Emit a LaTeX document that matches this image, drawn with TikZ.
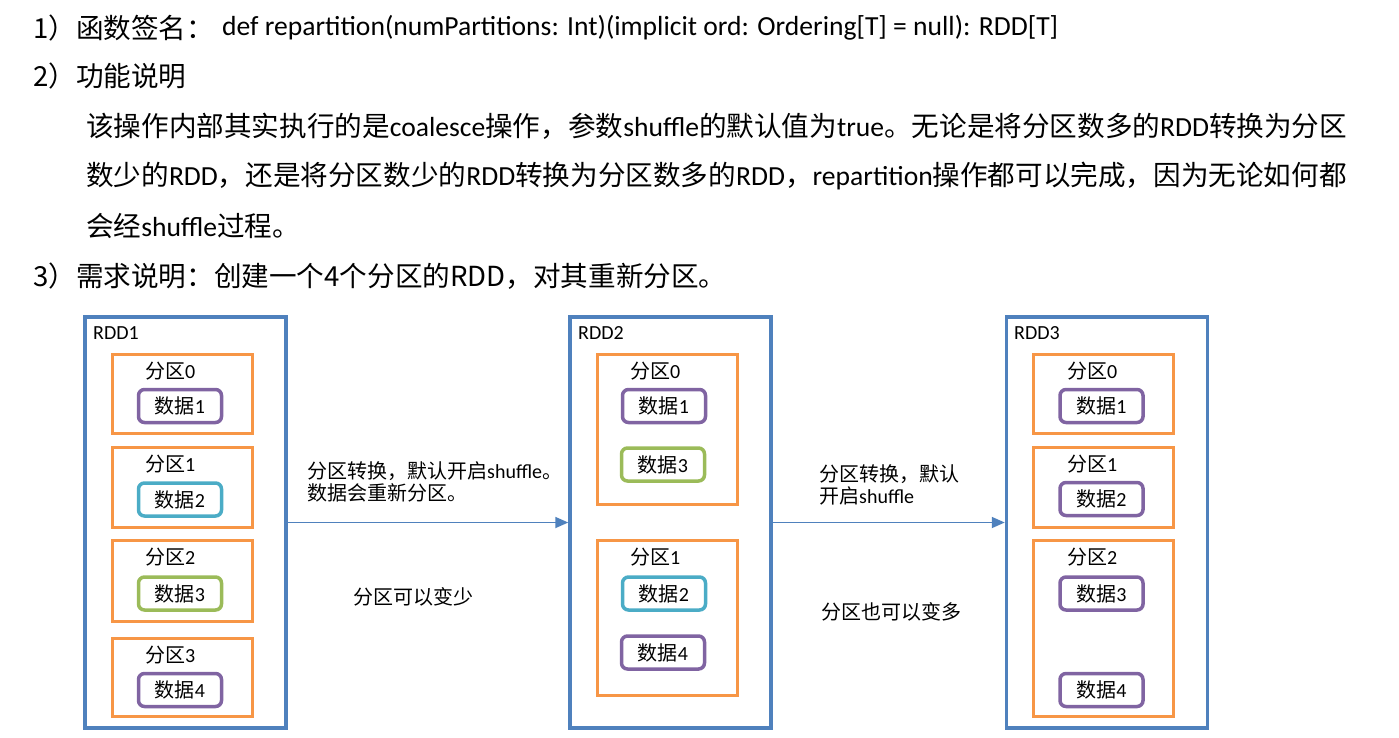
\documentclass[tikz,border=0pt]{standalone}
\usepackage{fontspec}
\setmainfont{Carlito}
\newfontfamily\cjk{Noto Sans CJK SC}
\usetikzlibrary{arrows.meta}

\definecolor{rddblue}{RGB}{79,129,189}
\definecolor{partorange}{RGB}{247,150,70}
\definecolor{datapurple}{RGB}{128,100,162}
\definecolor{datateal}{RGB}{75,172,198}
\definecolor{datagreen}{RGB}{155,187,89}

\newcommand{\zh}[1]{{\cjk #1}}

\tikzset{
	rddbox/.style={draw=rddblue,line width=3.5pt,minimum width=201pt,minimum height=411pt,inner sep=0pt},
	partbox/.style={draw=partorange,line width=3pt,minimum width=140pt,minimum height=#1,inner sep=0pt},
	databox/.style={draw=#1,line width=3.5pt,rounded corners=6pt,minimum width=83pt,minimum height=33pt,inner sep=0pt},
	lbl/.style={anchor=west,inner sep=0pt},
	conv/.style={draw=rddblue,line width=1.8pt,-{Triangle[length=13pt,width=11pt]}},
}

\begin{document}
\begin{tikzpicture}[x=1pt,y=-1pt,font=\fontsize{20}{22}\selectfont]
			\useasboundingbox (0,0) rectangle (1399,737);
			% top text
			\begin{scope}[font=\fontsize{27.6}{33}\selectfont]
			\node[lbl] (sig) at (33,28) {\zh{1）函数签名：}};
			\node[lbl] (sigdef) at (222,28) {def repartition(numPartitions: Int)(implicit ord: Ordering[T] = null): RDD[T]};
			\node[lbl] (func) at (33,76) {\zh{2）功能说明}};
			\node[lbl] (descA) at (86,126) {\zh{该操作内部其实执行的是}coalesce\zh{操作，参数}shuffle\zh{的默认值为}true\zh{。无论是将分区数多的}RDD\zh{转换为分区}};
			\node[lbl] (descB) at (86,176) {\zh{数少的}RDD\zh{，还是将分区数少的}RDD\zh{转换为分区数多的}RDD\zh{，}repartition\zh{操作都可以完成，因为无论如何都}};
			\node[lbl] (descC) at (86,226) {\zh{会经}shuffle\zh{过程。}};
			\node[lbl] (need) at (33,276) {\zh{3）需求说明：创建一个4个分区的RDD，对其重新分区。}};
			\end{scope}
			% RDD1
			\node[rddbox] (rddA) at (185.5,522.5) {};
			\node[lbl] (rddAlbl) at (93,333) {RDD1};
			\node[partbox=79pt] (pA0) at (182.5,394) {};
			\node[partbox=80pt] (pA1) at (182.5,487.5) {};
			\node[partbox=81pt] (pA2) at (182.5,581) {};
			\node[partbox=78pt] (pA3) at (182.5,677.5) {};
			\node[lbl] (pA0lbl) at (145,371) {\zh{分区}0};
			\node[lbl] (pA1lbl) at (145,464) {\zh{分区}1};
			\node[lbl] (pA2lbl) at (145,557) {\zh{分区}2};
			\node[lbl] (pA3lbl) at (145,655) {\zh{分区}3};
			\node[databox=datapurple] (dA1) at (180,406) {\zh{数据}1};
			\node[databox=datateal] (dA2) at (180,499.5) {\zh{数据}2};
			\node[databox=datagreen] (dA3) at (180,593.5) {\zh{数据}3};
			\node[databox=datapurple] (dA4) at (180,690) {\zh{数据}4};
			% RDD2
			\node[rddbox] (rddB) at (670.5,522.5) {};
			\node[lbl] (rddBlbl) at (578,333) {RDD2};
			\node[partbox=150pt] (pB0) at (667.5,429.5) {};
			\node[partbox=155pt] (pB1) at (667.5,618) {};
			\node[lbl] (pB0lbl) at (630,371) {\zh{分区}0};
			\node[lbl] (pB1lbl) at (630,557) {\zh{分区}1};
			\node[databox=datapurple] (dB1) at (664,406) {\zh{数据}1};
			\node[databox=datagreen] (dB3) at (663,464.5) {\zh{数据}3};
			\node[databox=datateal] (dB2) at (664,593.5) {\zh{数据}2};
			\node[databox=datapurple] (dB4) at (663,652.5) {\zh{数据}4};
			% RDD3
			\node[rddbox] (rddC) at (1107,522.5) {};
			\node[lbl] (rddClbl) at (1014,333) {RDD3};
			\node[partbox=79pt] (pC0) at (1103,394) {};
			\node[partbox=80pt] (pC1) at (1103,487.5) {};
			\node[partbox=176pt] (pC2) at (1103,628.5) {};
			\node[lbl] (pC0lbl) at (1067,371) {\zh{分区}0};
			\node[lbl] (pC1lbl) at (1067,464) {\zh{分区}1};
			\node[lbl] (pC2lbl) at (1067,557) {\zh{分区}2};
			\node[databox=datapurple] (dC1) at (1101.5,406) {\zh{数据}1};
			\node[databox=datapurple] (dC2) at (1101.5,499) {\zh{数据}2};
			\node[databox=datapurple] (dC3) at (1101.5,593.5) {\zh{数据}3};
			\node[databox=datapurple] (dC4) at (1101.5,690) {\zh{数据}4};
			% conversions
			\draw[conv] (rddA) -- (rddB);
			\draw[conv] (rddB) -- (rddC);
			\node[lbl,align=left] (noteA) at (307,482) {\zh{分区转换，默认开启}shuffle\zh{。}\\\zh{数据会重新分区。}};
			\node (lessA) at (413,597) {\zh{分区可以变少}};
			\node[lbl,align=left] (noteB) at (819,485) {\zh{分区转换，默认}\\\zh{开启}shuffle};
			\node (moreB) at (891,612) {\zh{分区也可以变多}};
\end{tikzpicture}
\end{document}
